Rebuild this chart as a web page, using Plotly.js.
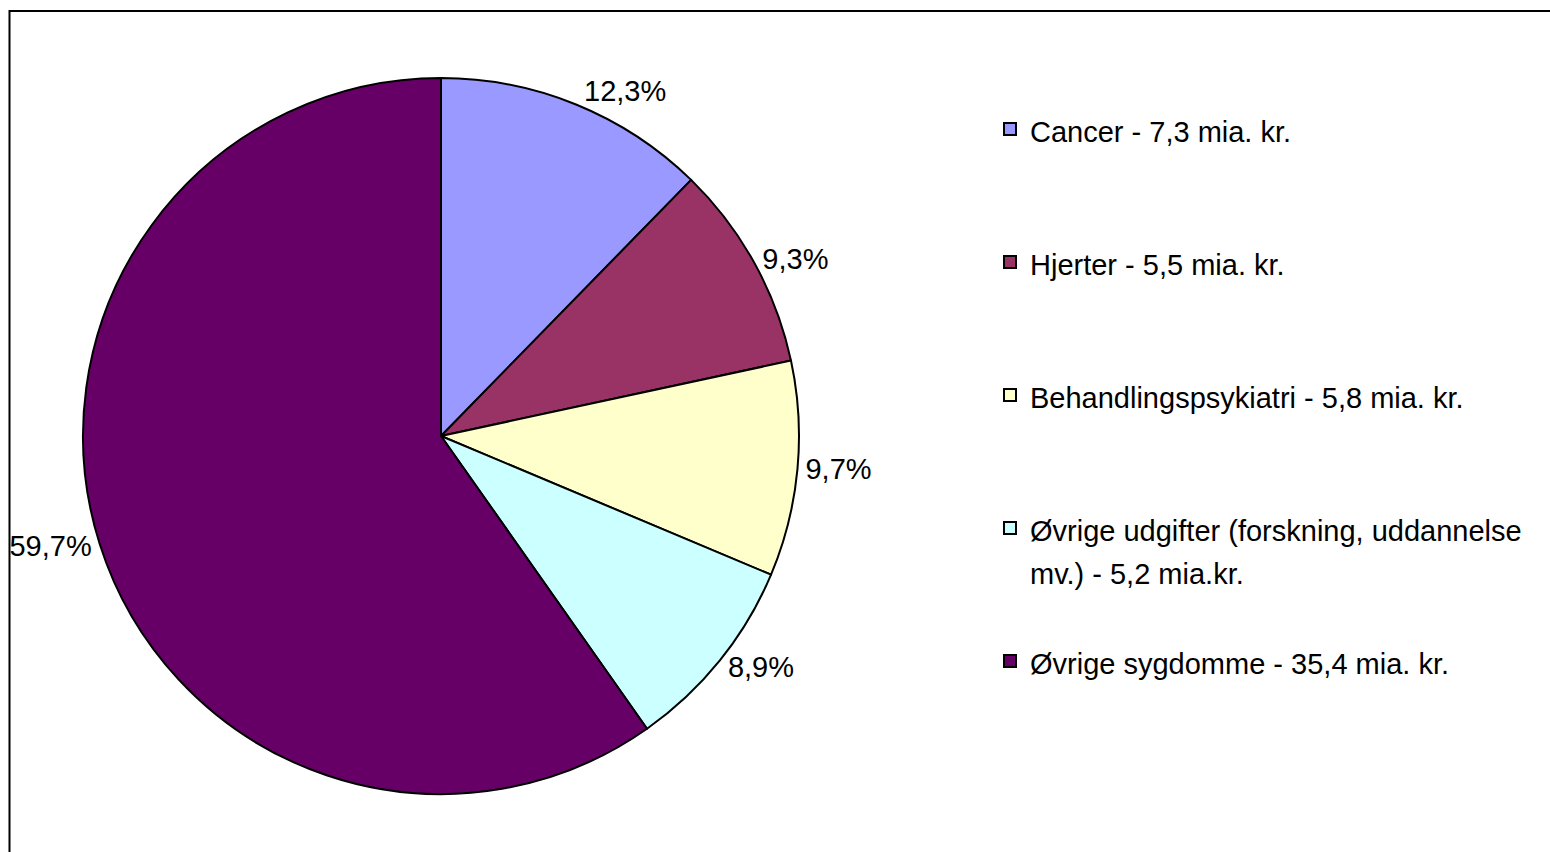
<!DOCTYPE html>
<html>
<head>
<meta charset="utf-8">
<script src="https://cdn.plot.ly/plotly-3.0.1.min.js"></script>
<style>
  html, body { margin: 0; padding: 0; background: #fff; overflow: hidden; }
  #chart { width: 1550px; height: 852px; }
</style>
</head>
<body>
<div id="chart"></div>
<script>
// Data
const categories = [
  "Cancer - 7,3 mia. kr.",
  "Hjerter - 5,5 mia. kr.",
  "Behandlingspsykiatri - 5,8 mia. kr.",
  "Øvrige udgifter (forskning, uddannelse|mv.) - 5,2 mia.kr.",
  "Øvrige sygdomme - 35,4 mia. kr."
];
const shares = [12.3, 9.3, 9.7, 8.9, 59.7];
const shareLabels = ["12,3%", "9,3%", "9,7%", "8,9%", "59,7%"];
const colors = ["#9999FF", "#993366", "#FFFFCC", "#CCFFFF", "#660066"];

const FONT = "Liberation Sans, Arial, Helvetica, sans-serif";
const TXT = 29;

// legend labels: pad with blank lines so entries are spaced like the reference
function span(s) { return '<span style="font-size:' + TXT + 'px">' + s + '</span>'; }
const legendLabels = categories.map(function (c) {
  const parts = c.split("|");
  if (parts.length === 1) return " <br>" + span(parts[0]) + "<br> ";
  return " <br>" + span(parts[0]) + "<br>" + span(parts[1]);
});

const W = 1550, H = 852;
const cx = 441, cy = 436, r = 358;

const trace = {
  type: "pie",
  labels: legendLabels,
  values: shares,
  text: shareLabels,
  textinfo: "text",
  textposition: "outside",
  textfont: { family: FONT, size: TXT, color: "#000" },
  sort: false,
  direction: "clockwise",
  rotation: 0,
  marker: { colors: colors, line: { color: "#000", width: 2 } },
  hoverinfo: "none",
  domain: {
    x: [(cx - r) / W, (cx + r) / W],
    y: [(H - cy - r) / H, (H - cy + r) / H]
  }
};

const legendFont = 43.33 / 1.3;

const layout = {
  width: W,
  height: H,
  paper_bgcolor: "#fff",
  plot_bgcolor: "#fff",
  margin: { l: 0, r: 0, t: 0, b: 0, autoexpand: false },
  font: { family: FONT, color: "#000" },
  showlegend: true,
  legend: {
    x: 990 / W,
    xanchor: "left",
    y: 1 - 57.5 / H,
    yanchor: "top",
    font: { family: FONT, size: legendFont, color: "#000" },
    bgcolor: "rgba(0,0,0,0)",
    borderwidth: 0,
    itemclick: false,
    itemdoubleclick: false
  },
  shapes: [{
    type: "rect", xref: "paper", yref: "paper",
    x0: 9.5 / W, x1: 1.02, y0: -0.02, y1: 1 - 11 / H,
    line: { color: "#000", width: 2 }, fillcolor: "rgba(0,0,0,0)"
  }]
};

Plotly.newPlot("chart", [trace], layout, { staticPlot: true, displayModeBar: false });
</script>
</body>
</html>
